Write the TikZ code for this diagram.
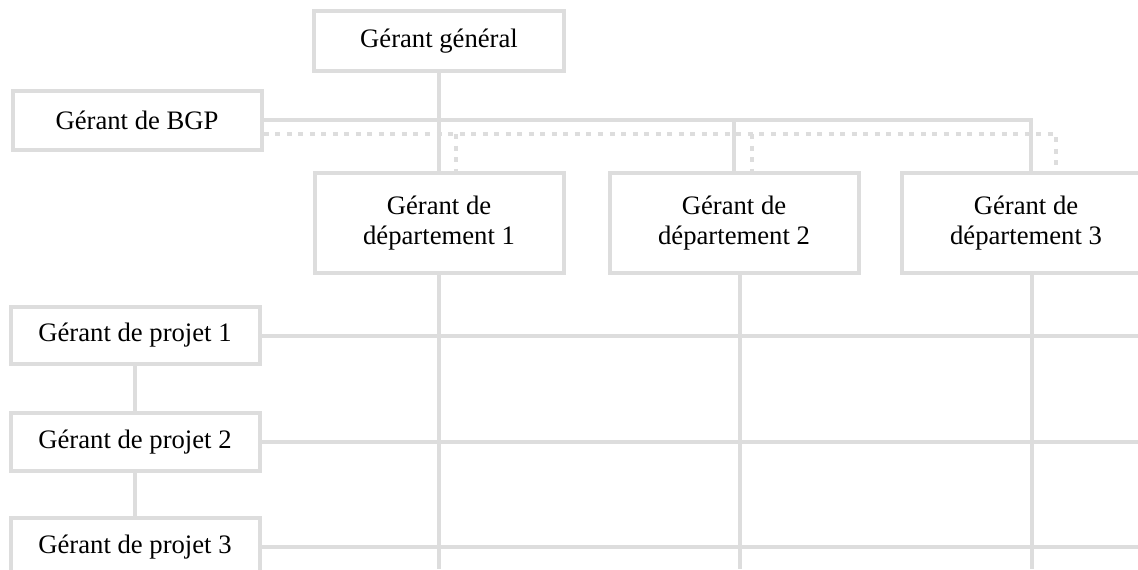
\documentclass[tikz,border=0pt]{standalone}
\usepackage{fontspec}
\setmainfont{Liberation Serif}
\usetikzlibrary{calc}
\definecolor{lg}{RGB}{221,221,221}
\tikzset{
  orgbox/.style={draw=lg, line width=3pt, fill=white, inner sep=0pt, align=center,
    font=\fontsize{20pt}{22.5pt}\selectfont, minimum width=186.75pt},
  solidline/.style={draw=lg, line width=3pt},
  dotline/.style={draw=lg, line width=3.5pt, dash pattern=on 3.75pt off 4.9pt},
}
\begin{document}
\begin{tikzpicture}[x=0.75pt,y=-0.75pt]
\useasboundingbox (0,0) rectangle (1138,569);
\clip (0,0) rectangle (1138,569);
\coordinate (dy) at (0,134);
\coordinate (bot) at (0,569);
\coordinate (rt) at (1138,0);

\node[orgbox, minimum width=187.5pt, minimum height=45pt] (gen) at (439,41) {Gérant général};
\node[orgbox, minimum height=44.25pt] (bgp) at (137,120) {Gérant de BGP};
\node[orgbox, minimum height=75pt] (d1) at (439,223) {Gérant de\\département 1};
\node[orgbox, minimum height=75pt] (d2) at (734,223) {Gérant de\\département 2};
\node[orgbox, minimum height=75pt] (d3) at (1026,223) {Gérant de\\département 3};
\node[orgbox, minimum height=43pt] (p1) at (135,335.5) {Gérant de projet 1};
\node[orgbox, minimum height=43pt] (p2) at (135,442) {Gérant de projet 2};
\node[orgbox, minimum height=43pt] (p3) at (135,547) {Gérant de projet 3};

% solid hierarchy
\draw[solidline] (gen) -- (d1);
\coordinate (s3) at ($(d3.north)+(5,0)$);
\draw[solidline] (bgp.east) -| (s3);
\draw[solidline] (d2.north |- bgp.east) -- (d2.north);

% dotted links
\coordinate (k3) at ($(d3.north)+(30,0)$);
\coordinate (bd) at ($(bgp.east)+(0,14)$);
\draw[dotline] (bd) -| (k3);
\coordinate (k1) at ($(d1.north)+(17,0)$);
\coordinate (k2) at ($(d2.north)+(18,0)$);
\draw[dotline] (k1 |- dy) -- (k1);
\draw[dotline] (k2 |- dy) -- (k2);

% lower verticals
\coordinate (q2) at ($(d2.south)+(6,0)$);
\coordinate (q3) at ($(d3.south)+(6,0)$);
\draw[solidline] (d1.south) -- (d1.south |- bot);
\draw[solidline] (q2) -- (q2 |- bot);
\draw[solidline] (q3) -- (q3 |- bot);

% project rows
\draw[solidline] (p1.east) -- (p1.east -| rt);
\draw[solidline] (p2.east) -- (p2.east -| rt);
\draw[solidline] (p3.east) -- (p3.east -| rt);
\draw[solidline] (p1) -- (p2);
\draw[solidline] (p2) -- (p3);
\end{tikzpicture}
\end{document}
